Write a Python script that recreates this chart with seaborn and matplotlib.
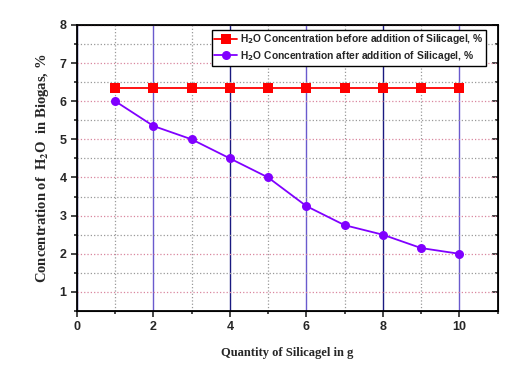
import matplotlib
matplotlib.use("Agg")
import matplotlib.pyplot as plt
import seaborn as sns
import pandas as pd
import numpy as np

# Data
silicagel_g = [1, 2, 3, 4, 5, 6, 7, 8, 9, 10]
h2o_before = [6.35, 6.35, 6.35, 6.35, 6.35, 6.35, 6.35, 6.35, 6.35, 6.35]
h2o_after = [6.0, 5.35, 5.0, 4.5, 4.0, 3.25, 2.75, 2.5, 2.15, 2.0]

label_before = r"H$_\mathbf{2}$O Concentration before addition of Silicagel, %"
label_after = r"H$_\mathbf{2}$O Concentration after addition of Silicagel, %"

df = pd.DataFrame({
    "g": silicagel_g * 2,
    "conc": h2o_before + h2o_after,
    "series": [label_before] * len(silicagel_g) + [label_after] * len(silicagel_g),
})

sns.set_style("white")
plt.rcParams["font.family"] = ["Liberation Sans", "DejaVu Sans"]

fig = plt.figure(figsize=(5.31, 3.72), dpi=100)
ax = fig.add_axes([0.145, 0.164, 0.792, 0.769])

sns.lineplot(data=df, x="g", y="conc", hue="series", style="series",
             palette={label_before: "#ff0000", label_after: "#8000ff"},
             markers={label_before: "s", label_after: "o"},
             dashes=False, markersize=6.5, markeredgewidth=0, linewidth=1.3,
             ax=ax, zorder=5)

ax.set_xlim(0, 11)
ax.set_ylim(0.5, 8)
ax.set_xticks([0, 2, 4, 6, 8, 10])
ax.set_xticks([1, 3, 5, 7, 9, 11], minor=True)
ax.set_yticks([1, 2, 3, 4, 5, 6, 7, 8])
ax.set_yticks(np.arange(0.5, 8.01, 0.5), minor=True)

# grid lines
ax.grid(True, axis="x", which="major", linestyle="-", linewidth=1.0)
ax.grid(True, axis="x", which="minor", linestyle=":", color="#999999", linewidth=0.9)
ax.grid(True, axis="y", which="major", linestyle=":", color="#d9869f", linewidth=0.9)
ax.grid(True, axis="y", which="minor", linestyle=":", color="#999999", linewidth=0.9)
vcolors = ["#6a5acd", "#1a1a80"]
for i, gl in enumerate(ax.xaxis.get_gridlines()):
    gl.set_color(vcolors[(i + 1) % 2])
ax.set_axisbelow(True)

for s in ax.spines.values():
    s.set_color("black")
    s.set_linewidth(1.3)

ax.tick_params(axis="both", which="both", direction="out", bottom=True, left=True,
               width=1.2, labelsize=9)
ax.tick_params(which="major", length=4)
ax.tick_params(which="minor", length=2.5)
for lbl in ax.get_xticklabels() + ax.get_yticklabels():
    lbl.set_fontweight("bold")

# right-side inward ticks
axr = ax.twinx()
axr.set_ylim(ax.get_ylim())
axr.set_yticks([1, 2, 3, 4, 5, 6, 7, 8])
axr.set_yticks(np.arange(0.5, 8.01, 0.5), minor=True)
axr.tick_params(axis="y", which="both", direction="in", width=1.2, labelright=False)
axr.tick_params(which="major", length=4)
axr.tick_params(which="minor", length=2.5)
axr.grid(False)

ax.set_xlabel("Quantity of Silicagel in g", fontfamily="Liberation Serif",
              fontweight="bold", fontsize=9, labelpad=10)
ax.set_ylabel(r"Concentration of  H$_\mathbf{2}$O  in Biogas, %",
              fontfamily="Liberation Serif", fontweight="bold", fontsize=10.5,
              labelpad=6, math_fontfamily="stix")

leg = ax.legend(loc="upper right", bbox_to_anchor=(0.978, 0.99),
                prop={"weight": "bold", "size": 7.4, "math_fontfamily": "dejavusans"},
                frameon=True, fancybox=False, edgecolor="black", framealpha=1,
                handlelength=2.2, borderpad=0.25, labelspacing=0.25, handletextpad=0.3,
                borderaxespad=0.2)
leg.get_frame().set_linewidth(1.0)
leg.set_zorder(10)
axr.set_zorder(ax.get_zorder() - 1)
ax.patch.set_visible(False)

fig.savefig("out.png", dpi=100)
